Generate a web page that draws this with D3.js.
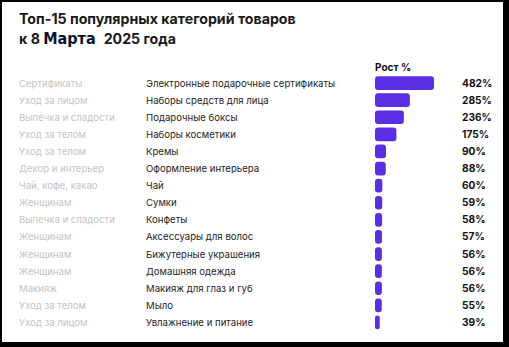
<!DOCTYPE html>
<html><head><meta charset="utf-8">
<script src="https://cdn.jsdelivr.net/npm/d3@7"></script>
<style>
html,body{margin:0;padding:0;background:#000;}
svg{display:block;}
</style></head>
<body>
<svg id="c" width="509" height="347"></svg>
<script>
const groups = ["Сертификаты","Уход за лицом","Выпечка и сладости","Уход за телом","Уход за телом","Декор и интерьер","Чай, кофе, какао","Женщинам","Выпечка и сладости","Женщинам","Женщинам","Женщинам","Макияж","Уход за телом","Уход за лицом"];
const categories = ["Электронные подарочные сертификаты","Наборы средств для лица","Подарочные боксы","Наборы косметики","Кремы","Оформление интерьера","Чай","Сумки","Конфеты","Аксессуары для волос","Бижутерные украшения","Домашняя одежда","Макияж для глаз и губ","Мыло","Увлажнение и питание"];
const growth = [482,285,236,175,90,88,60,59,58,57,56,56,56,55,39];

const svg = d3.select("#c");
const font = "Inter, 'Noto Sans', sans-serif";
// frame
svg.append("rect").attr("x",2).attr("y",2).attr("width",501).attr("height",340).attr("fill","#fff");

// title
svg.append("text").attr("x",19).attr("y",24).attr("font-family",font).attr("font-weight",700)
  .attr("font-size",14.2).attr("fill","#1a1a1a").text("Топ-15 популярных категорий товаров");
const t2 = svg.append("text").attr("x",19).attr("y",44).attr("font-family",font).attr("font-weight",700)
  .attr("font-size",14.2).attr("fill","#1a1a1a");
t2.append("tspan").text("к 8 ");
t2.append("tspan").attr("font-family","'DejaVu Sans Condensed','Liberation Sans Narrow',sans-serif").attr("font-stretch","condensed")
  .attr("font-weight",700).attr("font-size",16).attr("fill","#0a1230").text("Марта");
t2.append("tspan").attr("dx",8).text("2025 года");

const y = d3.scaleBand().domain(d3.range(categories.length)).range([74.5, 331]).paddingInner(0.2).paddingOuter(0.1);
const x = d3.scaleLinear().domain([0, 482]).range([0, 59]);
const x0 = 375;

svg.append("text").attr("x",x0).attr("y",71).attr("font-family",font).attr("font-weight",700)
  .attr("font-size",10).attr("fill","#111").text("Рост %");

const rows = svg.append("g").selectAll("g").data(growth).join("g");
rows.append("rect")
  .attr("x",x0).attr("y",(d,i)=>y(i)).attr("height",y.bandwidth())
  .attr("width",d=>x(d)).attr("rx",d=>Math.min(3,x(d)/2)).attr("fill","#5b2ee6");
rows.append("text").attr("x",19).attr("y",(d,i)=>y(i)+y.bandwidth()/2+3.5)
  .attr("font-family",font).attr("font-size",9.6).attr("fill","#c4c4c4").text((d,i)=>groups[i]);
rows.append("text").attr("x",146).attr("y",(d,i)=>y(i)+y.bandwidth()/2+3.5)
  .attr("font-family",font).attr("font-size",9.6).attr("fill","#1e1e1e").text((d,i)=>categories[i]);
rows.append("text").attr("x",462).attr("y",(d,i)=>y(i)+y.bandwidth()/2+3.5)
  .attr("font-family",font).attr("font-weight",700).attr("font-size",10.2).attr("fill","#111").text(d=>d+"%");
</script>
</body></html>
